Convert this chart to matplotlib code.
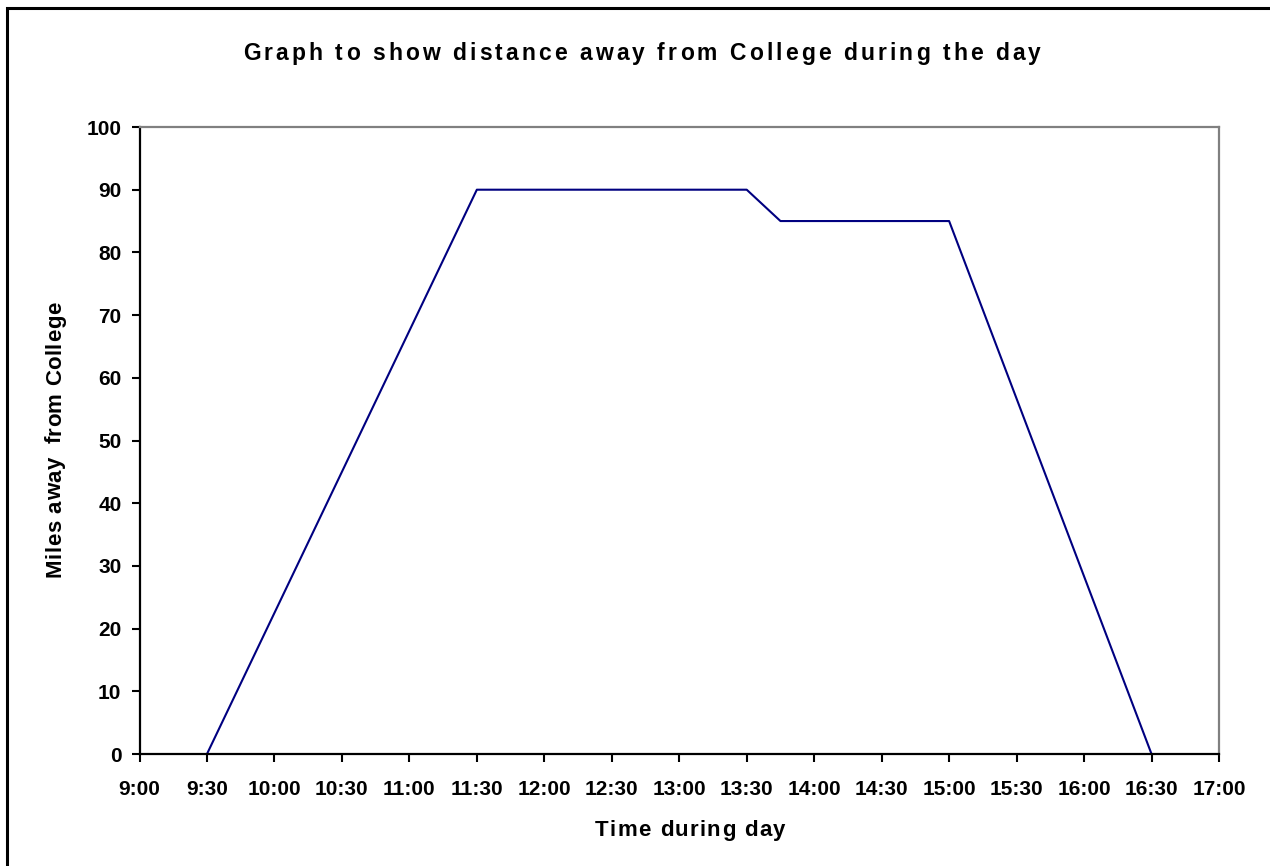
import matplotlib
matplotlib.use("Agg")
import matplotlib.pyplot as plt
from matplotlib.patches import Rectangle
from matplotlib.font_manager import FontProperties

# Data
times_hours = [9.5, 11.5, 13.5, 13.75, 15.0, 16.5]
miles = [0, 90, 90, 85, 85, 0]
tick_hours = [9 + 0.5 * i for i in range(17)]
tick_labels = ["9:00", "9:30", "10:00", "10:30", "11:00", "11:30", "12:00", "12:30",
               "13:00", "13:30", "14:00", "14:30", "15:00", "15:30", "16:00", "16:30", "17:00"]
y_ticks = list(range(0, 101, 10))
title = "Graph to show distance away from College during the day"
xlabel = "Time during day"
ylabel = "Miles away  from College"

W, H = 1270, 866
plt.rcParams['font.family'] = ['Liberation Sans', 'DejaVu Sans']
fig = plt.figure(figsize=(W / 100, H / 100), dpi=100)

# outer border (top & left visible)
fig.patches.append(Rectangle((7 / W, -0.1), 1.2, 1 - 8 / H + 0.1, transform=fig.transFigure,
                             fill=False, edgecolor='black', linewidth=2.2))

left, right, top, bottom = 139.5, 1219, 127, 754
ax = fig.add_axes([left / W, 1 - bottom / H, (right - left) / W, (bottom - top) / H])
ax.plot(times_hours, miles, color='#000080', linewidth=1.5)
ax.set_xlim(9, 17)
ax.set_ylim(0, 100)
ax.set_xticks(tick_hours)
ax.set_xticklabels(tick_labels, fontsize=15, fontweight='bold')
ax.set_yticks(y_ticks)
ax.set_yticklabels([str(v) for v in y_ticks], fontsize=15, fontweight='bold')
ax.tick_params(axis='both', direction='out', length=6, width=1.5, color='black')
ax.tick_params(axis='x', pad=13)
ax.tick_params(axis='y', pad=7)
for s in ['left', 'bottom']:
    ax.spines[s].set_color('black')
    ax.spines[s].set_linewidth(1.6)
for s in ['top', 'right']:
    ax.spines[s].set_color('#808080')
    ax.spines[s].set_linewidth(1.6)

renderer = fig.canvas.get_renderer()


def advances(s, fp):
    def w(t):
        return renderer.get_text_width_height_descent(t, fp, ismath=False)[0]
    base = w('HH')
    return [w('H' + c + 'H') - base for c in s]


def tracked_h(s, start_px, end_px, base_px, size):
    fp = FontProperties(family=['Liberation Sans'], weight='bold', size=size)
    adv = advances(s, fp)
    spacing = ((end_px - start_px) - sum(adv)) / (len(s) - 1)
    pos = start_px
    for i, c in enumerate(s):
        if c != ' ':
            fig.text((pos + adv[i] / 2) / W, 1 - base_px / H, c, fontproperties=fp,
                     ha='center', va='baseline')
        pos += adv[i] + spacing


def tracked_v(s, bottom_px, top_px, base_x, size):
    fp = FontProperties(family=['Liberation Sans'], weight='bold', size=size)
    adv = advances(s, fp)
    spacing = ((bottom_px - top_px) - sum(adv)) / (len(s) - 1)
    pos = bottom_px
    for i, c in enumerate(s):
        if c != ' ':
            fig.text(base_x / W, 1 - (pos - adv[i] / 2) / H, c, fontproperties=fp,
                     ha='center', va='baseline', rotation=90, rotation_mode='anchor')
        pos -= adv[i] + spacing


tracked_h(title, 243, 1041, 60, 16.5)
tracked_h(xlabel, 595, 785, 836, 16)
tracked_v(ylabel, 577, 302, 61, 16)

fig.savefig("out.png", dpi=100)
